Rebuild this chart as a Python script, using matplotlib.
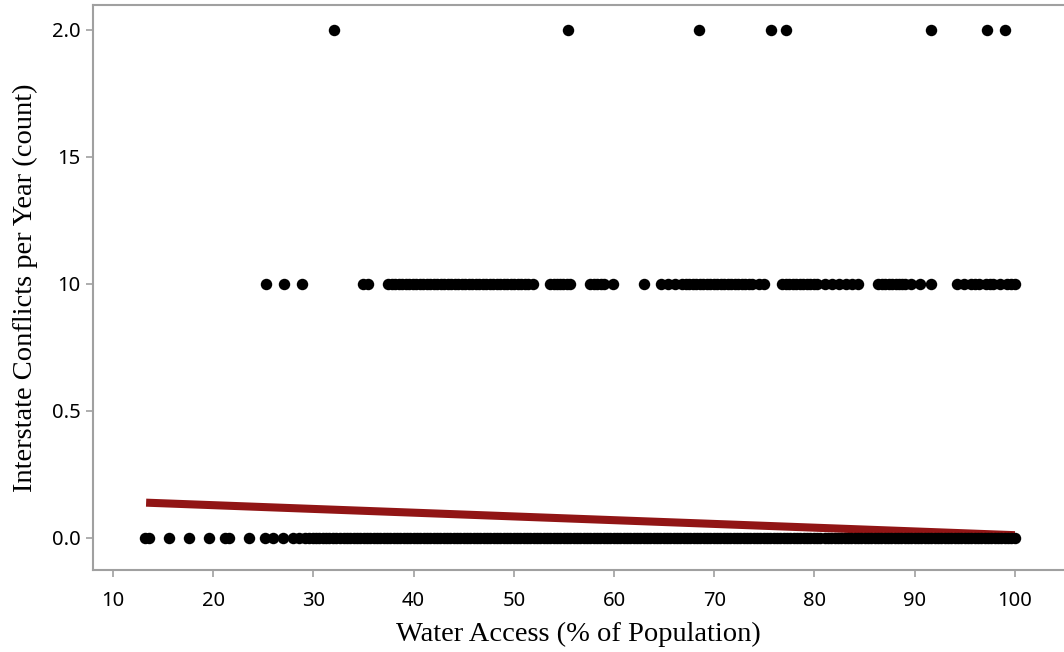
import matplotlib
matplotlib.use("Agg")
import matplotlib.pyplot as plt

# conflicts = 2
x_two = [32.1, 55.4, 68.5, 75.7, 77.2, 91.6, 97.2, 99.0]

# conflicts = 1
x_one = [25.3, 27.1, 28.9, 34.9, 35.4,
         37.4, 37.8, 38.1, 38.5, 38.8, 39.2, 39.5, 39.9, 40.2, 40.6, 40.9,
         41.3, 41.6, 42.0, 42.3, 42.7, 43.0, 43.4, 43.7, 44.1, 44.4, 44.8,
         45.1, 45.5, 45.8, 46.2, 46.5, 46.9, 47.2, 47.6, 47.9, 48.3, 48.6,
         49.0, 49.3, 49.7, 50.0, 50.4, 50.7, 51.1, 51.4, 51.9,
         53.6, 54.0, 54.3, 54.6, 54.9, 55.3, 55.6,
         57.6, 58.0, 58.3, 58.7, 59.0, 59.9, 63.0,
         64.7, 65.4, 66.1, 66.8, 67.2, 67.5, 67.9, 68.2, 68.6, 68.9, 69.3,
         69.6, 70.0, 70.3, 70.7, 71.0, 71.4, 71.7, 72.1, 72.4, 72.8, 73.1,
         73.5, 73.8, 74.5, 75.0,
         76.8, 77.2, 77.5, 77.9, 78.2, 78.6, 78.9, 79.3, 79.6, 80.0, 80.3,
         81.0, 81.7, 82.4, 83.1, 83.7, 84.3,
         86.3, 86.7, 87.0, 87.4, 87.7, 88.1, 88.4, 88.7, 89.0, 89.6, 90.5, 91.6,
         94.2, 94.9, 95.6, 96.0, 96.4, 97.1, 97.5, 97.8, 98.5, 99.2, 99.6, 100.0]

# conflicts = 0
x_zero = [13.2, 13.6, 15.6, 17.6, 19.6, 21.2, 21.6, 23.6, 25.2, 26.0, 27.0,
          28.0, 28.6,
          29.2, 29.6, 30.0, 30.3, 30.6, 31.0, 31.3, 31.6, 32.0, 32.3, 32.6,
          33.0, 33.3, 33.6, 34.0, 34.3, 34.6, 35.0, 35.3, 35.6, 36.0, 36.3,
          36.6, 37.0, 37.3, 37.6, 38.0, 38.3, 38.6, 39.0, 39.3, 39.6, 40.0,
          40.3, 40.6, 41.0, 41.3, 41.6, 42.0, 42.3, 42.6, 43.0, 43.3, 43.6,
          44.0, 44.3, 44.6, 45.0, 45.3, 45.6, 46.0, 46.3, 46.6, 47.0, 47.3,
          47.6, 48.0, 48.3, 48.6, 49.0, 49.3, 49.6, 50.0, 50.3, 50.6, 51.0,
          51.3, 51.6, 52.0, 52.3, 52.6, 53.0, 53.3, 53.6, 54.0, 54.3, 54.6,
          55.0, 55.3, 55.6, 56.0, 56.3, 56.6, 57.0, 57.3, 57.6, 58.0, 58.3,
          58.6, 59.0, 59.3, 59.6, 60.0, 60.3, 60.6, 61.0, 61.3, 61.6, 62.0,
          62.3, 62.6, 63.0, 63.3, 63.6, 64.0, 64.3, 64.6, 65.0, 65.3, 65.6,
          66.0, 66.3, 66.6, 67.0, 67.3, 67.6, 68.0, 68.3, 68.6, 69.0, 69.3,
          69.6, 70.0, 70.3, 70.6, 71.0, 71.3, 71.6, 72.0, 72.3, 72.6, 73.0,
          73.3, 73.6, 74.0, 74.3, 74.6, 75.0, 75.3, 75.6, 76.0, 76.3, 76.6,
          77.0, 77.3, 77.6, 78.0, 78.3, 78.6, 79.0, 79.3, 79.6, 80.0, 80.3,
          80.6, 81.0, 81.3, 81.6, 82.0, 82.3, 82.6, 83.0, 83.3, 83.6, 84.0,
          84.3, 84.6, 85.0, 85.3, 85.6, 86.0, 86.3, 86.6, 87.0, 87.3, 87.6,
          88.0, 88.3, 88.6, 89.0, 89.3, 89.6, 90.0, 90.3, 90.6, 91.0, 91.3,
          91.6, 92.0, 92.3, 92.6, 93.0, 93.3, 93.6, 94.0, 94.3, 94.6, 95.0,
          95.3, 95.6, 96.0, 96.3, 96.6, 97.0, 97.3, 97.6, 98.0, 98.3, 98.6,
          99.0, 99.3, 99.6, 100.0]

# fitted trend line end points
fit_x = [13.3, 100.0]
fit_y = [0.139, 0.011]

xticks = [10, 20, 30, 40, 50, 60, 70, 80, 90, 100]
yticks = [0.0, 0.5, 1.0, 1.5, 2.0]
ytick_labels = ["0.0", "0.5", "10", "15", "2.0"]

fig = plt.figure(figsize=(10.64, 6.52), dpi=100)
ax = fig.add_axes([0.0874, 0.1258, 0.9126, 0.8665])

ax.plot(fit_x, fit_y, color="#911515", lw=5.8, solid_capstyle="butt", zorder=2)

ms = 68
ax.scatter(x_zero, [0] * len(x_zero), s=ms, color="black", lw=0, zorder=3)
ax.scatter(x_one, [1] * len(x_one), s=ms, color="black", lw=0, zorder=3)
ax.scatter(x_two, [2] * len(x_two), s=ms, color="black", lw=0, zorder=3)

ax.set_xlim(8.0, 104.9)
ax.set_ylim(-0.126, 2.098)

ax.set_xticks(xticks)
ax.set_xticklabels([str(t) for t in xticks], fontfamily="Noto Sans", fontsize=14.5)
ax.set_yticks(yticks)
ax.set_yticklabels(ytick_labels, fontfamily="Noto Sans", fontsize=14.5)

for side in ["left", "top", "bottom"]:
    ax.spines[side].set_color("#a0a0a0")
    ax.spines[side].set_linewidth(1.5)
ax.spines["right"].set_visible(False)
ax.tick_params(axis="both", colors="#a0a0a0", labelcolor="black",
               length=5, width=1.2)
ax.tick_params(axis="x", pad=10)
ax.tick_params(axis="y", pad=4)

ax.set_xlabel("Water Access (% of Population)", fontfamily="Liberation Serif",
              fontsize=20.5, labelpad=8)
ax.set_ylabel("Interstate Conflicts per Year (count)", fontfamily="Liberation Serif",
              fontsize=20.5, labelpad=10)

fig.savefig("out.png", dpi=100)
